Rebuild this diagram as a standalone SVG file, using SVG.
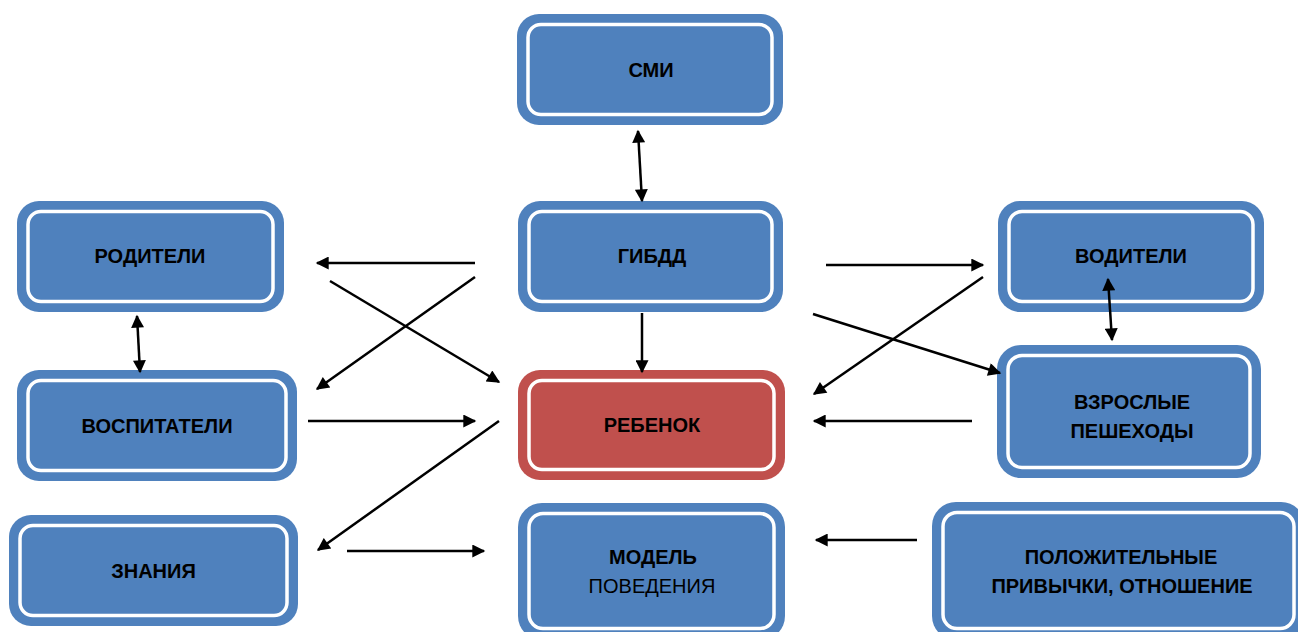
<svg xmlns="http://www.w3.org/2000/svg" width="1298" height="632" viewBox="0 0 1298 632">
<style>
.o{fill:#4F81BD}
.r{fill:#C0504D}
.i{fill:none;stroke:#FFFFFF;stroke-width:3.5}
.t{font-family:"Liberation Sans",Arial,sans-serif;font-weight:bold;font-size:20px;fill:#000;text-anchor:middle}
.n{font-family:"Liberation Sans",Arial,sans-serif;font-size:20px;fill:#000;text-anchor:middle}
.c line{stroke:#000;stroke-width:2.5;marker-end:url(#ah)}
.c line.d{marker-start:url(#ah)}
</style>
<defs>
<marker id="ah" viewBox="0 0 10 10" refX="9" refY="5" markerWidth="16" markerHeight="13" markerUnits="userSpaceOnUse" orient="auto-start-reverse">
<path d="M0,0 L10,5 L0,10 z" fill="#000"/>
</marker>
</defs>
<rect width="1298" height="632" fill="#FFFFFF"/>
<g id="smi"><rect class="o" x="517" y="14" width="266" height="111" rx="22"/><rect class="i" x="528" y="24.5" width="244" height="90" rx="13"/><text class="t" x="651" y="77">СМИ</text></g>
<g id="roditeli"><rect class="o" x="17" y="201" width="267" height="111" rx="22"/><rect class="i" x="28" y="211.5" width="245" height="90" rx="13"/><text class="t" x="150" y="263">РОДИТЕЛИ</text></g>
<g id="gibdd"><rect class="o" x="518" y="201" width="265" height="111" rx="22"/><rect class="i" x="529" y="211.5" width="243" height="90" rx="13"/><text class="t" x="652" y="263">ГИБДД</text></g>
<g id="voditeli"><rect class="o" x="998" y="201" width="266" height="111" rx="22"/><rect class="i" x="1009" y="211.5" width="244" height="90" rx="13"/><text class="t" x="1131" y="263">ВОДИТЕЛИ</text></g>
<g id="vospitateli"><rect class="o" x="17" y="370" width="280" height="111" rx="22"/><rect class="i" x="28" y="380.5" width="258" height="90" rx="13"/><text class="t" x="157" y="433">ВОСПИТАТЕЛИ</text></g>
<g id="rebenok"><rect class="r" x="518" y="370" width="267" height="110" rx="22"/><rect class="i" x="529" y="380.5" width="245" height="89" rx="13"/><text class="t" x="652" y="432">РЕБЕНОК</text></g>
<g id="vzroslye"><rect class="o" x="997" y="345" width="264" height="133" rx="24"/><rect class="i" x="1008" y="355.5" width="242" height="112" rx="14"/><text class="t" x="1132" y="409">ВЗРОСЛЫЕ</text><text class="t" x="1132" y="438">ПЕШЕХОДЫ</text></g>
<g id="znaniya"><rect class="o" x="9" y="515" width="289" height="111" rx="22"/><rect class="i" x="20" y="525.5" width="267" height="90" rx="13"/><text class="t" x="153.5" y="578">ЗНАНИЯ</text></g>
<g id="model"><rect class="o" x="518" y="503" width="267" height="137" rx="24"/><rect class="i" x="529" y="513.5" width="245" height="115" rx="14"/><text class="t" x="653" y="564">МОДЕЛЬ</text><text class="n" x="652" y="593">ПОВЕДЕНИЯ</text></g>
<g id="privychki"><rect class="o" x="932" y="502" width="373" height="138" rx="24"/><rect class="i" x="943" y="512.5" width="351" height="116" rx="14"/><text class="t" x="1121" y="564">ПОЛОЖИТЕЛЬНЫЕ</text><text class="t" x="1122" y="593">ПРИВЫЧКИ, ОТНОШЕНИЕ</text></g>
<g id="connectors" class="c">
<line class="d" x1="638" y1="131" x2="642" y2="201"/>
<line x1="642" y1="313" x2="642" y2="372"/>
<line x1="475" y1="263" x2="317" y2="263"/>
<line x1="330" y1="281" x2="499" y2="382"/>
<line x1="475" y1="277" x2="317" y2="389"/>
<line x1="308" y1="421" x2="475" y2="421"/>
<line x1="499" y1="421" x2="318" y2="550"/>
<line x1="347" y1="551" x2="484" y2="551"/>
<line x1="826" y1="265" x2="983" y2="265"/>
<line x1="983" y1="277" x2="814" y2="394"/>
<line x1="813" y1="314" x2="1000" y2="373"/>
<line x1="972" y1="421" x2="814" y2="421"/>
<line class="d" x1="1108" y1="279" x2="1112" y2="340"/>
<line class="d" x1="137" y1="316" x2="140" y2="372"/>
<line x1="917" y1="540" x2="816" y2="540"/>
</g>
</svg>
